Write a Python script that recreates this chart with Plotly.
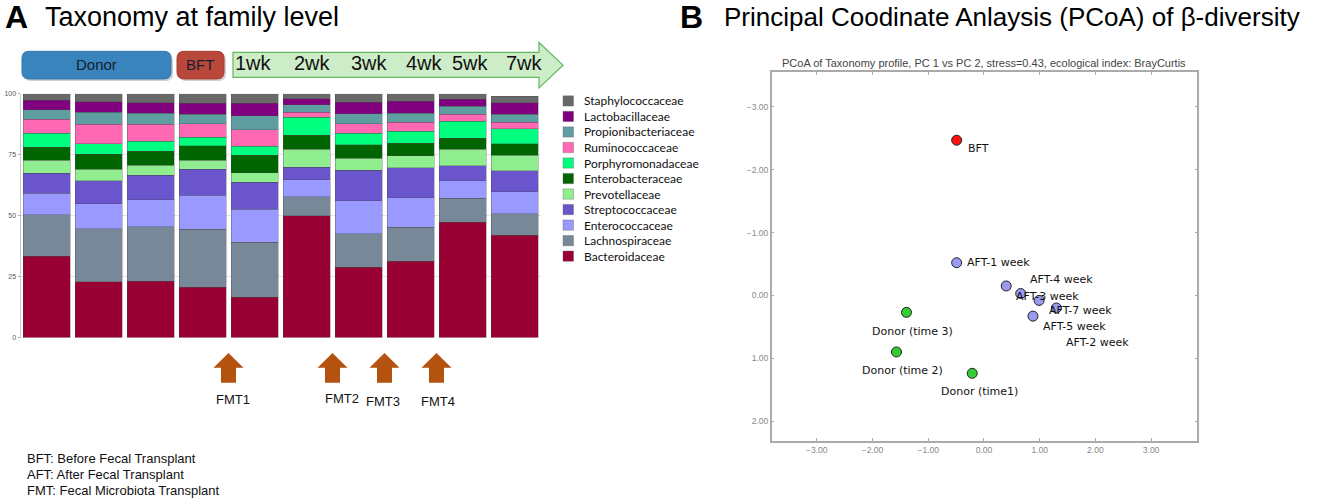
import plotly.graph_objects as go

# ---------------- data ----------------
samples = ["Donor-1", "Donor-2", "Donor-3", "BFT", "1wk", "2wk", "3wk", "4wk", "5wk", "7wk"]
families = ["Bacteroidaceae", "Lachnospiraceae", "Enterococcaceae", "Streptococcaceae",
            "Prevotellaceae", "Enterobacteraceae", "Porphyromonadaceae", "Ruminococcaceae",
            "Propionibacteriaceae", "Lactobacillaceae", "Staphylococcaceae"]
Bacteroidaceae = [33.4, 22.9, 23.2, 20.6, 16.6, 49.9, 28.8, 31.4, 47.3, 41.9]
Lachnospiraceae = [16.9, 21.7, 22.2, 23.9, 22.6, 7.9, 13.7, 13.9, 9.8, 8.9]
Enterococcaceae = [8.9, 10.3, 11.2, 13.9, 13.4, 6.9, 13.7, 12.0, 7.2, 9.0]
Streptococcaceae = [8.1, 9.5, 10.0, 10.6, 11.1, 5.1, 12.5, 12.4, 6.1, 8.7]
Prevotellaceae = [5.5, 4.7, 4.0, 3.8, 4.0, 7.4, 4.8, 4.8, 6.8, 6.3]
Enterobacteraceae = [5.2, 6.1, 5.8, 5.9, 7.1, 5.7, 5.6, 5.1, 4.5, 4.7]
Porphyromonadaceae = [5.7, 4.3, 4.2, 3.4, 3.6, 7.4, 4.7, 5.0, 7.0, 6.1]
Ruminococcaceae = [5.9, 8.0, 6.9, 5.6, 6.8, 2.2, 3.9, 3.8, 2.9, 2.7]
Propionibacteriaceae = [3.9, 5.0, 4.5, 3.8, 5.8, 2.9, 4.1, 3.6, 3.3, 3.2]
Lactobacillaceae = [3.9, 4.3, 4.4, 4.6, 5.1, 2.6, 4.8, 4.9, 2.8, 4.8]
Staphylococcaceae = [2.6, 3.2, 3.6, 3.9, 3.9, 2.0, 3.4, 3.1, 2.3, 2.7]
family_values = [Bacteroidaceae, Lachnospiraceae, Enterococcaceae, Streptococcaceae,
                 Prevotellaceae, Enterobacteraceae, Porphyromonadaceae, Ruminococcaceae,
                 Propionibacteriaceae, Lactobacillaceae, Staphylococcaceae]
bar_ticks = [0, 25, 50, 75, 100]

week_labels = ["1wk", "2wk", "3wk", "4wk", "5wk", "7wk"]
fmt_labels = ["FMT1", "FMT2", "FMT3", "FMT4"]
fmt_between = [3.5, 5.5, 6.5, 7.5]   # FMT given between these sample indices

pc_labels = ["BFT", "AFT-1 week", "AFT-4 week", "AFT-3 week", "AFT-2 week", "AFT-7 week",
             "AFT-5 week", "Donor (time 3)", "Donor (time 2)", "Donor (time1)"]
pc_group = ["BFT", "AFT", "AFT", "AFT", "AFT", "AFT", "AFT", "Donor", "Donor", "Donor"]
pc1 = [-0.49, -0.49, 0.40, 0.66, 0.99, 1.30, 0.88, -1.39, -1.57, -0.21]
pc2 = [-2.47, -0.52, -0.15, -0.03, 0.08, 0.20, 0.33, 0.27, 0.90, 1.24]
pc_ticks = [-3, -2, -1, 0, 1, 2, 3]

# ---------------- styles ----------------
W, H = 1317, 504
fam_colors = ["#990033", "#778899", "#9999FF", "#6A55CD", "#90EE90", "#006400",
              "#00FF7F", "#FF69B4", "#5F9EA0", "#800080", "#696969"]
grp_colors = {"BFT": "#FF1010", "AFT": "#9A9AF0", "Donor": "#33CC33"}
# label offsets in px (dx, dy down), anchor
lab_style = [(9, 8, "left"), (8, 0, "left"), (22, -6, "left"), (-7, 3, "left"),
             (25, 42, "left"), (-9, 3, "left"), (8, 10, "left"),
             (6, 19, "center"), (6, 19, "center"), (7, 18, "center")]


def px(x):
    return x / W


def py(y):
    return 1 - y / H


def path_px(pts, close=True):
    s = ""
    for i, p in enumerate(pts):
        if p[0] == "Q":
            s += f" Q {px(p[1]):.5f},{py(p[2]):.5f} {px(p[3]):.5f},{py(p[4]):.5f}"
        else:
            s += (" M " if i == 0 else " L ") + f"{px(p[0]):.5f},{py(p[1]):.5f}"
    return s + (" Z" if close else "")


def rounded(x0, y0, x1, y1, r):
    return path_px([(x0 + r, y0), (x1 - r, y0), ("Q", x1, y0, x1, y0 + r),
                    (x1, y1 - r), ("Q", x1, y1, x1 - r, y1), (x0 + r, y1),
                    ("Q", x0, y1, x0, y1 - r), (x0, y0 + r), ("Q", x0, y0, x0 + r, y0)])


fig = go.Figure()

for fam, vals, col in zip(families, family_values, fam_colors):
    fig.add_trace(go.Bar(x=samples, y=vals, name=fam, xaxis="x", yaxis="y", showlegend=False,
                         marker=dict(color=col, line=dict(color="rgba(70,70,70,0.55)", width=0.6))))

for g in ["BFT", "AFT", "Donor"]:
    idx = [i for i, gg in enumerate(pc_group) if gg == g]
    fig.add_trace(go.Scatter(x=[pc1[i] for i in idx], y=[pc2[i] for i in idx],
                             mode="markers", xaxis="x2", yaxis="y2", showlegend=False,
                             marker=dict(size=10, color=grp_colors[g],
                                         line=dict(color="#222", width=1))))

annotations = []
shapes = []

# legend (drawn manually: top entry = last family)
leg_top, leg_step = 98.3, 15.74
for k, (fam, col) in enumerate(zip(families[::-1], fam_colors[::-1])):
    yc = leg_top + k * leg_step
    shapes.append(dict(type="rect", xref="paper", yref="paper",
                       x0=px(563), x1=px(573.5), y0=py(yc - 5.2), y1=py(yc + 5.2),
                       fillcolor=col, line=dict(color="rgba(90,90,90,0.6)", width=0.6)))
    annotations.append(dict(x=px(582), y=py(yc), xref="paper", yref="paper", text=fam,
                            showarrow=False, xanchor="left", yanchor="middle",
                            font=dict(family="Lato", size=12, color="#111")))

for lab, x, y, (dx, dy, anc) in zip(pc_labels, pc1, pc2, lab_style):
    annotations.append(dict(x=x, y=y, xref="x2", yref="y2", text=lab, showarrow=False,
                            xanchor=anc, yanchor="middle", xshift=dx, yshift=-dy,
                            font=dict(family="DejaVu Sans", size=11, color="#111")))

# headings
annotations += [
    dict(x=px(3), y=py(13), xref="paper", yref="paper", text="<b>A</b>", showarrow=False,
         xanchor="left", yanchor="middle", font=dict(size=32, color="#000")),
    dict(x=px(43), y=py(13), xref="paper", yref="paper", text="Taxonomy at family level",
         showarrow=False, xanchor="left", yanchor="middle", font=dict(size=27, color="#000")),
    dict(x=px(678), y=py(13), xref="paper", yref="paper", text="<b>B</b>", showarrow=False,
         xanchor="left", yanchor="middle", font=dict(size=32, color="#000")),
    dict(x=px(722), y=py(13), xref="paper", yref="paper",
         text="Principal Coodinate Anlaysis (PCoA) of β-diversity",
         showarrow=False, xanchor="left", yanchor="middle", font=dict(size=26, color="#000")),
    dict(x=px(984), y=py(60), xref="paper", yref="paper",
         text="PCoA of Taxonomy profile, PC 1 vs PC 2, stress=0.43, ecological index: BrayCurtis",
         showarrow=False, xanchor="center", yanchor="middle", font=dict(size=11, color="#444")),
]

# timeline
shapes.append(dict(type="path", xref="paper", yref="paper", path=rounded(24, 50, 173, 78, 7),
                   fillcolor="rgba(0,0,0,0.18)", line=dict(width=0), layer="above"))
shapes.append(dict(type="path", xref="paper", yref="paper", path=rounded(22, 48, 171, 76, 7),
                   fillcolor="#3A84BE", line=dict(color="#3478AE", width=1), layer="above"))
shapes.append(dict(type="path", xref="paper", yref="paper", path=rounded(179, 50, 226, 78, 7),
                   fillcolor="rgba(0,0,0,0.18)", line=dict(width=0), layer="above"))
shapes.append(dict(type="path", xref="paper", yref="paper", path=rounded(177, 48, 224, 76, 7),
                   fillcolor="#B9473A", line=dict(color="#A83E32", width=1), layer="above"))
shapes.append(dict(type="path", xref="paper", yref="paper",
                   path=path_px([(233, 49), (539, 49), (539, 39), (563, 62), (539, 85),
                                 (539, 74.5), (233, 74.5)]),
                   fillcolor="#CDEDC8", line=dict(color="#5FB85F", width=1.2), layer="above"))
annotations += [
    dict(x=px(96), y=py(61), xref="paper", yref="paper", text="Donor", showarrow=False,
         xanchor="center", yanchor="middle", font=dict(size=15, color="#15202c")),
    dict(x=px(200), y=py(61), xref="paper", yref="paper", text="BFT", showarrow=False,
         xanchor="center", yanchor="middle", font=dict(size=15, color="#15202c")),
]
week_x = [253, 312, 370, 424, 471, 524]
for wl, wx in zip(week_labels, week_x):
    annotations.append(dict(x=px(wx), y=py(60), xref="paper", yref="paper", text=wl,
                            xanchor="center", yanchor="middle",
                            showarrow=False, font=dict(size=20, color="#111")))

# FMT arrows under the bars
fmt_dx = [4, 9, -2, 1]
fmt_ly = [401, 400, 403, 403]
for lab, xb, dx, ly in zip(fmt_labels, fmt_between, fmt_dx, fmt_ly):
    arrow = " ".join([
        f"M 0,{py(354):.5f}", f"L 15,{py(369):.5f}", f"L 7.5,{py(369):.5f}",
        f"L 7.5,{py(384):.5f}", f"L -7.5,{py(384):.5f}", f"L -7.5,{py(369):.5f}",
        f"L -15,{py(369):.5f}", "Z"])
    shapes.append(dict(type="path", xref="x", yref="paper", xsizemode="pixel", xanchor=xb,
                       path=arrow, fillcolor="#B4520F", line=dict(width=0)))
    annotations.append(dict(x=xb, y=py(ly), xref="x", yref="paper", text=lab, showarrow=False,
                            xshift=dx, xanchor="center", yanchor="middle",
                            font=dict(size=13, color="#111")))

# footnotes
notes = ["BFT: Before Fecal Transplant", "AFT: After Fecal Transplant",
         "FMT: Fecal Microbiota Transplant"]
for i, n in enumerate(notes):
    annotations.append(dict(x=px(25), y=py(460.5 + 16.3 * i), xref="paper", yref="paper", text=n,
                            showarrow=False, xanchor="left", yanchor="middle",
                            font=dict(size=13, color="#111")))

fig.update_layout(
    width=W, height=H, margin=dict(l=0, r=0, t=0, b=0),
    paper_bgcolor="white", plot_bgcolor="white",
    font=dict(family="Liberation Sans", color="#111"),
    barmode="stack", bargap=0.096, showlegend=False,
    xaxis=dict(domain=[px(20.5), px(540.5)], anchor="y", showticklabels=False,
               showgrid=False, zeroline=False, showline=False, ticks=""),
    yaxis=dict(domain=[py(338.3), py(91)], anchor="x", range=[0, 100], tickvals=bar_ticks,
               showgrid=True, gridcolor="#e4e4e4", gridwidth=1, zeroline=False,
               showline=True, linecolor="#c8c8c8", ticks="outside", ticklen=2,
               tickcolor="#aaa", tickfont=dict(size=7, color="#555")),
    xaxis2=dict(domain=[px(771.7), px(1197.3)], anchor="y2", range=[-3.81, 3.83],
                tickvals=pc_ticks, tickformat=".2f", showgrid=False, zeroline=False,
                showline=True, mirror="ticks", linecolor="#aaaaaa", linewidth=1.5,
                ticks="inside", ticklen=3, tickcolor="#aaa",
                tickfont=dict(size=8.5, color="#888")),
    yaxis2=dict(domain=[py(442.7), py(69)], anchor="x2", range=[2.31, -3.555],
                tickvals=[-3, -2, -1, 0, 1, 2], tickformat=".2f", showgrid=False,
                zeroline=False, showline=True, mirror="ticks", linecolor="#aaaaaa",
                linewidth=1.5, ticks="inside", ticklen=3, tickcolor="#aaa",
                tickfont=dict(size=8.5, color="#888")),
    annotations=annotations, shapes=shapes,
)

fig.write_html("out.html", config={"displayModeBar": False},
               post_script="document.body.style.margin='0';")
